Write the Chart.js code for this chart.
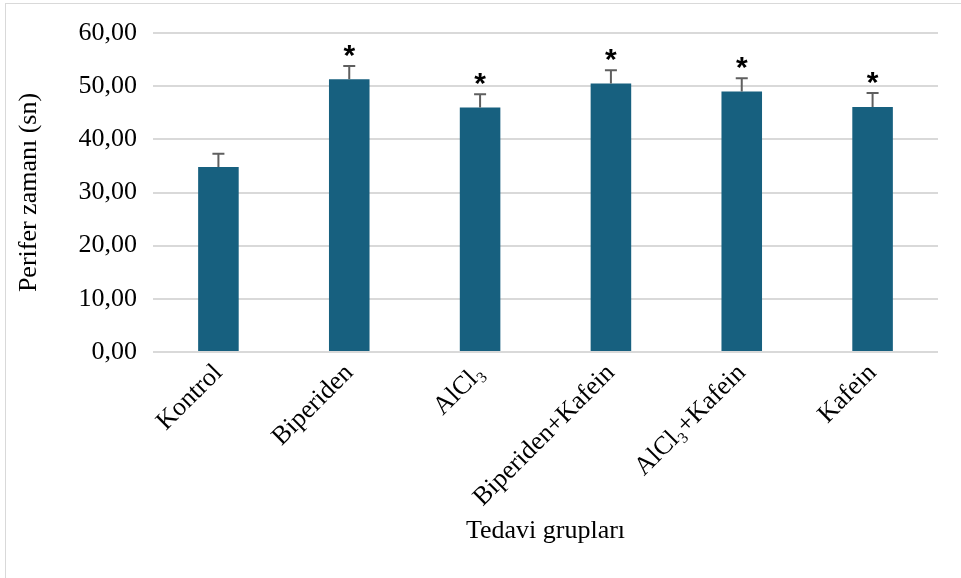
<!DOCTYPE html>
<html lang="tr">
<head>
<meta charset="utf-8">
<script src="https://cdn.jsdelivr.net/npm/chart.js@4/dist/chart.umd.min.js"></script>
<style>
  html, body { margin: 0; padding: 0; background: #ffffff; }
  #wrap { position: relative; width: 961px; height: 578px; }
</style>
</head>
<body>
<div id="wrap"><canvas id="chart" width="961" height="578"></canvas></div>
<script>
// Treatment groups and measured peripheral time (mean ± SEM, seconds)
const groups = ['Kontrol', 'Biperiden', 'AlCl₃', 'Biperiden+Kafein', 'AlCl₃+Kafein', 'Kafein'];
const means = [34.8, 51.3, 46.0, 50.5, 49.0, 46.1];
const errors = [2.5, 2.5, 2.5, 2.5, 2.5, 2.6];
const significant = [false, true, true, true, true, true];
const yTicks = [0, 10, 20, 30, 40, 50, 60];

const serif = "'Liberation Serif', 'Times New Roman', serif";

// Frame around the figure
const framePlugin = {
  id: 'frame',
  beforeDraw(chart) {
    const ctx = chart.ctx;
    ctx.save();
    ctx.strokeStyle = '#d9d9d9';
    ctx.lineWidth = 1;
    ctx.strokeRect(5.5, 3.5, 1200, 1200);
    ctx.restore();
  }
};

// Upper error whiskers and significance stars
const errorPlugin = {
  id: 'errorBars',
  afterDatasetsDraw(chart) {
    const ctx = chart.ctx;
    const meta = chart.getDatasetMeta(0);
    const y = chart.scales.y;
    ctx.save();
    meta.data.forEach((bar, i) => {
      const x = bar.x;
      const top = y.getPixelForValue(means[i]);
      const cap = y.getPixelForValue(means[i] + errors[i]);
      ctx.strokeStyle = '#5f5f5f';
      ctx.lineWidth = 2;
      ctx.beginPath();
      ctx.moveTo(x, top);
      ctx.lineTo(x, cap);
      ctx.moveTo(x - 6, cap);
      ctx.lineTo(x + 6, cap);
      ctx.stroke();
      if (significant[i]) {
        ctx.fillStyle = '#000000';
        ctx.font = "bold 30px 'Liberation Sans', Arial, sans-serif";
        ctx.textAlign = 'center';
        ctx.textBaseline = 'middle';
        ctx.fillText('*', x, cap - 9);
      }
    });
    ctx.restore();
  }
};

new Chart(document.getElementById('chart'), {
  type: 'bar',
  data: {
    labels: groups,
    datasets: [{
      data: means,
      backgroundColor: '#17607f',
      borderWidth: 0,
      barPercentage: 0.31,
      categoryPercentage: 1.0
    }]
  },
  options: {
    responsive: false,
    animation: false,
    layout: { padding: { left: 5, right: 23, top: 33, bottom: 31 } },
    plugins: {
      legend: { display: false },
      tooltip: { enabled: false }
    },
    scales: {
      x: {
        afterFit(scale) { scale.height = 195; },
        grid: { display: false, drawTicks: false },
        border: { display: false },
        ticks: {
          color: '#000000',
          font: { family: serif, size: 26 },
          minRotation: 45,
          maxRotation: 45,
          autoSkip: false,
          padding: 6
        },
        title: {
          display: true,
          text: 'Tedavi grupları',
          color: '#000000',
          font: { family: serif, size: 26 },
          padding: { top: 0, bottom: 0 }
        }
      },
      y: {
        min: 0,
        max: 60,
        afterBuildTicks(scale) {
          scale.ticks = yTicks.map(v => ({ value: v }));
        },
        afterFit(scale) { scale.width = 148; },
        grid: { color: '#d9d9d9', lineWidth: 2, drawTicks: false },
        border: { display: false },
        ticks: {
          color: '#000000',
          font: { family: serif, size: 26 },
          padding: 16,
          callback: v => v.toFixed(2).replace('.', ',')
        },
        title: {
          display: true,
          text: 'Perifer zamanı (sn)',
          color: '#000000',
          font: { family: serif, size: 26 },
          padding: { top: 9, bottom: 0 }
        }
      }
    }
  },
  plugins: [framePlugin, errorPlugin]
});
</script>
</body>
</html>
